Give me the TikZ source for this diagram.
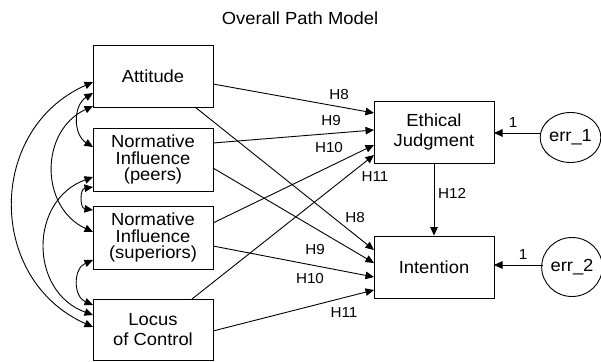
\documentclass[tikz,border=0pt]{standalone}
\usepackage{fontspec}
\setmainfont[FakeStretch=1.05]{Liberation Sans}
\usetikzlibrary{arrows.meta,shapes.geometric,calc}
\begin{document}
\begin{tikzpicture}[x=1pt,y=1pt,
  box/.style={draw,line width=0.9pt,minimum width=120pt,minimum height=62pt,inner sep=0pt,align=center,font=\fontsize{17.5}{20.5}\selectfont},
  box3/.style={box,font=\fontsize{17.5}{16.5}\selectfont},
  errnode/.style={draw,ellipse,line width=0.9pt,inner sep=0pt,font=\fontsize{17.5}{20}\selectfont},
  patharrow/.style={line width=0.9pt,-{Triangle[length=8.5pt,width=7.5pt]}},
  cov/.style={line width=0.9pt,{Triangle[length=8.5pt,width=7.5pt]}-{Triangle[length=8.5pt,width=7.5pt]}},
  lab/.style={font=\fontsize{14.5}{16}\selectfont,inner sep=0pt}]
\useasboundingbox (0,0) rectangle (601,-361);

\node[font=\fontsize{17.5}{20}\selectfont] (title) at (300,-18) {Overall Path Model};

\node[box] (att) at (153,-76) {Attitude};
\node[box3,minimum height=63pt] (peers) at (153,-159.5) {Normative\\Influence\\(peers)};
\node[box3,minimum height=63pt] (sup) at (153,-237.5) {Normative\\Influence\\(superiors)};
\node[box,minimum height=61pt] (loc) at (153,-329.5) {Locus\\of Control};
\node[box] (ej) at (434,-132) {Ethical\\Judgment};
\node[box] (int) at (434,-267) {Intention};
\node[errnode,minimum width=59pt,minimum height=50pt] (e1) at (570.5,-137.5) {err\_1};
\node[errnode,minimum width=58pt,minimum height=59pt] (e2) at (572,-267) {err\_2};

% start points
\coordinate (aE) at (213,-84);
\coordinate (pE) at (213,-143);
\coordinate (sE) at (213,-223);
\coordinate (lN) at (192,-299);
\coordinate (aS) at (195,-107);
\coordinate (pE2) at (213,-168);
\coordinate (sE2) at (213,-246);
\coordinate (lE) at (213,-331);
% targets
\coordinate (ej1) at (374,-113);
\coordinate (ej2) at (374,-130);
\coordinate (ej3) at (374,-145);
\coordinate (ej4) at (374,-155);
\coordinate (in1) at (374,-250);
\coordinate (in2) at (374,-263);
\coordinate (in3) at (374,-277);
\coordinate (in4) at (374,-290);

\draw[patharrow] (aE) -- (ej1);
\draw[patharrow] (pE) -- (ej2);
\draw[patharrow] (sE) -- (ej3);
\draw[patharrow] (lN) -- (ej4);
\draw[patharrow] (aS) -- (in1);
\draw[patharrow] (pE2) -- (in2);
\draw[patharrow] (sE2) -- (in3);
\draw[patharrow] (lE) -- (in4);
\draw[patharrow] (ej) -- (int);

\coordinate (e1o) at (541,-133);
\coordinate (e1t) at (494,-133);
\coordinate (e2o) at (543,-265);
\coordinate (e2t) at (494,-265);
\draw[patharrow] (e1o) -- (e1t);
\draw[patharrow] (e2o) -- (e2t);

\node[lab] (h8a) at (339,-95) {H8};
\node[lab] (h9a) at (331,-121) {H9};
\node[lab] (h10a) at (329,-148) {H10};
\node[lab] (h11a) at (375,-177) {H11};
\node[lab] (h8b) at (355,-218) {H8};
\node[lab] (h9b) at (315,-250) {H9};
\node[lab] (h10b) at (310,-279) {H10};
\node[lab] (h11b) at (344,-313) {H11};
\node[lab] (h12) at (452,-193) {H12};
\node[lab] (one1) at (513,-123) {1};
\node[lab] (one2) at (523,-255) {1};

% covariances
\coordinate (aw1) at (93,-82);
\coordinate (aw2) at (93,-93);
\coordinate (aw3) at (93,-106);
\coordinate (pw1) at (93,-147);
\coordinate (pw2) at (93,-177);
\coordinate (pw3) at (93,-187);
\coordinate (sw1) at (93,-210);
\coordinate (sw2) at (93,-232);
\coordinate (sw3) at (93,-260);
\coordinate (lw1) at (93,-305);
\coordinate (lw2) at (93,-315);
\coordinate (lw3) at (93,-327);

\draw[cov] (aw1) to[out=204,in=156,distance=116.5pt] (lw3);
\draw[cov] (aw2) to[out=212,in=148,distance=23.5pt] (pw1);
\draw[cov] (aw3) to[out=205,in=155,distance=58.9pt] (sw2);
\draw[cov] (pw3) to[out=188,in=172,distance=13.4pt] (sw1);
\draw[cov] (pw2) to[out=200,in=160,distance=68.2pt] (lw2);
\draw[cov] (sw3) to[out=203,in=157,distance=21.6pt] (lw1);
\end{tikzpicture}
\end{document}
